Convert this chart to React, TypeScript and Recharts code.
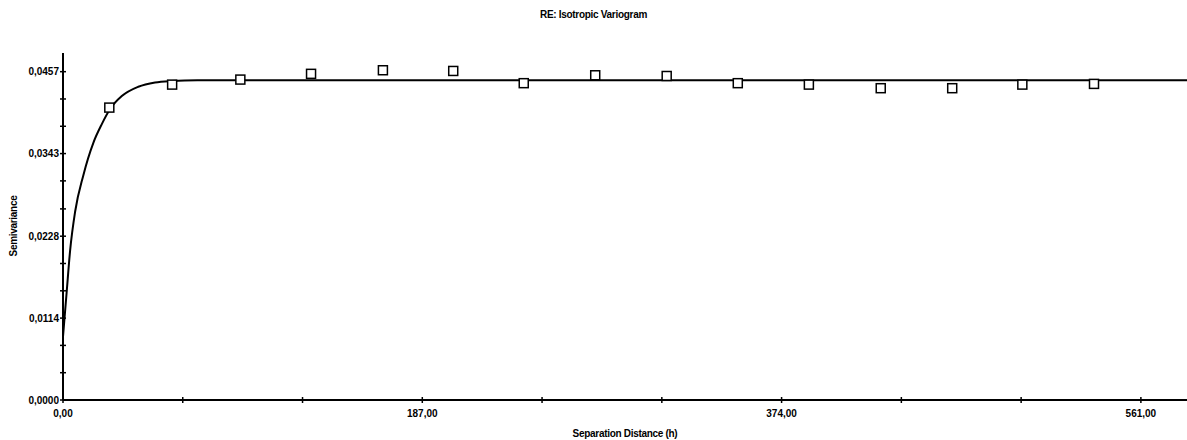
import React from 'react';
import { ComposedChart, Line, Scatter, XAxis, YAxis } from 'recharts';

// experimental variogram points (lag distance, semivariance)
const lagH = [24.1, 56.8, 92.3, 129.1, 166.5, 203.1, 239.8, 277.0, 314.2, 351.2, 388.2, 425.6, 462.8, 499.3, 536.6];
const lagGamma = [0.0407, 0.0439, 0.0446, 0.0454, 0.0459, 0.0458, 0.0441, 0.0452, 0.0451, 0.0441, 0.0439, 0.0434, 0.0434, 0.0439, 0.0440];

// fitted model curve
const modelH = [0, 1.9, 3.7, 6.3, 10.6, 15.8, 20.2, 24.5, 30.6, 39.2, 47.9, 56.6, 70, 585];
const modelGamma = [0.0088, 0.015, 0.0208, 0.0262, 0.0313, 0.0358, 0.0384, 0.0405, 0.0423, 0.0436, 0.0442, 0.0444, 0.0445, 0.0445];

const xMajorTicks = [0, 187, 374, 561];
const xMajorLabels = ['0,00', '187,00', '374,00', '561,00'];
const xMinorTicks = [62.33, 124.67, 249.33, 311.67, 436.33, 498.67];

const yMajorTicks = [0, 0.0114, 0.0228, 0.0343, 0.0457];
const yMajorLabels = ['0,0000', '0,0114', '0,0228', '0,0343', '0,0457'];
const yMinorTicks = [0.0038, 0.0076, 0.0152, 0.019, 0.0266, 0.0305, 0.0381, 0.0419];

const points = lagH.map((h, i) => ({ h, g: lagGamma[i] }));
const model = modelH.map((h, i) => ({ h, g: modelGamma[i] }));

const FONT = '"Liberation Sans", Arial, sans-serif';

const XTick = (props: any) => {
  const { x, y, payload } = props;
  const idx = xMajorTicks.indexOf(payload.value);
  return (
    <g>
      <line x1={x} x2={x} y1={y - 3} y2={y + 3} stroke="#000" strokeWidth={1.5} />
      {idx >= 0 && (
        <text x={x} y={y + 17} textAnchor="middle" fontSize={10} fontWeight="bold" fontFamily={FONT} fill="#000">
          {xMajorLabels[idx]}
        </text>
      )}
    </g>
  );
};

const YTick = (props: any) => {
  const { x, y, payload } = props;
  const idx = yMajorTicks.indexOf(payload.value);
  return (
    <g>
      <line x1={x - 3} x2={x + 3} y1={y} y2={y} stroke="#000" strokeWidth={1.5} />
      {idx >= 0 && (
        <text x={x - 4} y={y + 3.5} textAnchor="end" fontSize={10} fontWeight="bold" fontFamily={FONT} fill="#000">
          {yMajorLabels[idx]}
        </text>
      )}
    </g>
  );
};

const Square = (props: any) => {
  const { cx, cy } = props;
  return <rect x={cx - 4.5} y={cy - 4.5} width={9} height={9} fill="#fff" stroke="#000" strokeWidth={1.5} />;
};

export default function App() {
  return (
    <div style={{ position: 'absolute', left: 0, top: 0, width: 1187, height: 440, background: '#fff', fontFamily: FONT }}>
      <div style={{ position: 'absolute', left: 0, width: 1187, top: 9, textAlign: 'center', fontSize: 10, fontWeight: 'bold', letterSpacing: -0.3 }}>
        RE: Isotropic Variogram
      </div>
      <div
        style={{
          position: 'absolute', left: 13, top: 226, fontSize: 10, fontWeight: 'bold', letterSpacing: -0.3,
          transform: 'translate(-50%, -50%) rotate(-90deg)', whiteSpace: 'nowrap',
        }}
      >
        Semivariance
      </div>
      <div style={{ position: 'absolute', left: 63, width: 1124, top: 428, textAlign: 'center', fontSize: 10, fontWeight: 'bold', letterSpacing: -0.3 }}>
        Separation Distance (h)
      </div>
      <ComposedChart width={1187} height={440} margin={{ top: 53, right: 0, bottom: 0, left: 0 }}>
        <XAxis
          dataKey="h"
          type="number"
          domain={[0, 585]}
          ticks={[...xMajorTicks, ...xMinorTicks]}
          tick={<XTick />}
          tickLine={false}
          tickSize={0}
          tickMargin={0}
          height={40}
          axisLine={{ stroke: '#000', strokeWidth: 2 }}
          interval={0}
          allowDataOverflow
        />
        <YAxis
          dataKey="g"
          type="number"
          domain={[0, 0.0483]}
          ticks={[...yMajorTicks, ...yMinorTicks]}
          tick={<YTick />}
          tickLine={false}
          tickSize={0}
          tickMargin={0}
          width={63}
          axisLine={{ stroke: '#000', strokeWidth: 2 }}
          interval={0}
          allowDataOverflow
        />
        <Line data={model} dataKey="g" type="monotone" stroke="#000" strokeWidth={2} dot={false} isAnimationActive={false} />
        <Scatter data={points} dataKey="g" shape={<Square />} isAnimationActive={false} />
      </ComposedChart>
    </div>
  );
}
